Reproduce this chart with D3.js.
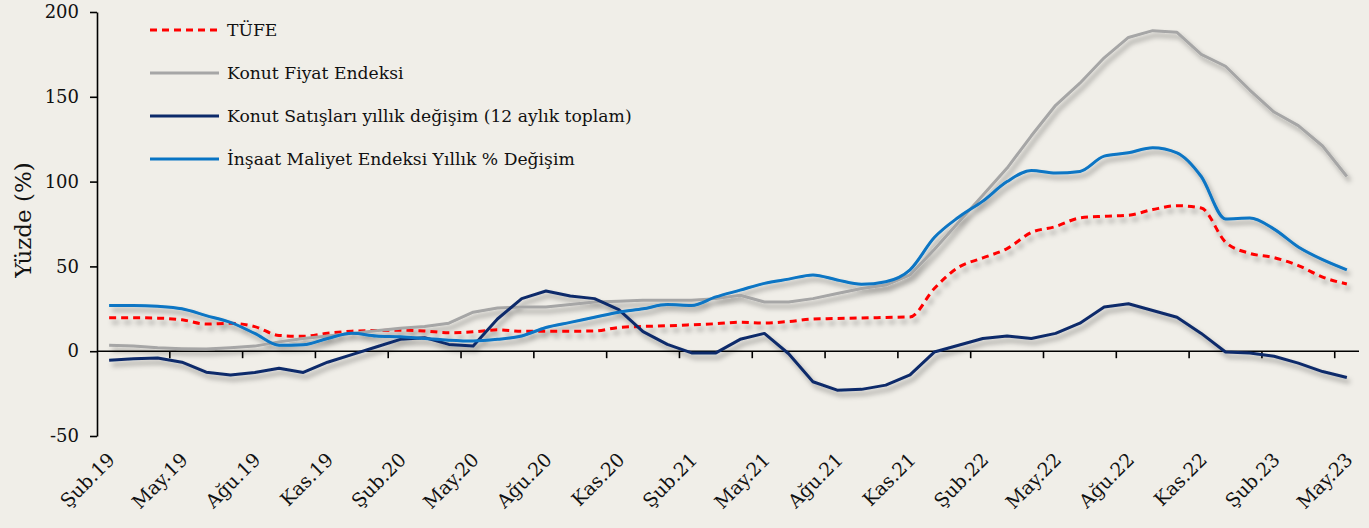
<!DOCTYPE html>
<html>
<head>
<meta charset="utf-8">
<script src="https://cdn.jsdelivr.net/npm/d3@7"></script>
<style>
  html, body { margin: 0; padding: 0; background: #f0eee8; }
  svg { display: block; }
  text { font-family: "DejaVu Serif", serif; fill: #111; }
</style>
</head>
<body>
<svg id="chart" width="1369" height="528"></svg>
<script>
// aylar: Şub.19 - May.23
var months = ["Şub.19","Mar.19","Nis.19","May.19","Haz.19","Tem.19","Ağu.19","Eyl.19","Eki.19","Kas.19","Ara.19",
  "Oca.20","Şub.20","Mar.20","Nis.20","May.20","Haz.20","Tem.20","Ağu.20","Eyl.20","Eki.20","Kas.20","Ara.20",
  "Oca.21","Şub.21","Mar.21","Nis.21","May.21","Haz.21","Tem.21","Ağu.21","Eyl.21","Eki.21","Kas.21","Ara.21",
  "Oca.22","Şub.22","Mar.22","Nis.22","May.22","Haz.22","Tem.22","Ağu.22","Eyl.22","Eki.22","Kas.22","Ara.22",
  "Oca.23","Şub.23","Mar.23","Nis.23","May.23"];

var tufe = [19.7,19.7,19.5,18.5,16,16.5,14.5,9.3,8.8,10.6,11.8,
  12.2,12.4,11.9,10.9,11.4,12.6,11.8,11.8,11.8,11.9,14.0,14.6,
  15.0,15.6,16.2,17.1,16.6,17.5,19.0,19.3,19.6,19.9,20.2,37,
  49.5,55,60.5,70.0,73.5,78.6,79.6,80.2,83.5,85.8,84.4,64.3,
  57.7,55.2,50.5,43.7,39.6];

var konutFiyat = [3.5,3,2,1.5,1.3,2,3,5.5,7.5,9,10.5,
  12,13.5,14.5,16.5,23,25.5,26,26,27.5,29,29.5,30,
  30,30,31,33,29,29,31,34,37,39,45,60,
  76,92,108,127,145,158,173,185,189,188,175,168,
  154,141,133,121,103];

var konutSatis = [-5.3,-4.5,-4,-6.5,-12.4,-14,-12.5,-10,-12.5,-6.5,-2,
  2.5,7,8,4,3,19,31,35.5,32.5,31,24.5,11.5,
  4,-1,-1,7,10.5,-1.5,-18,-23,-22.5,-20,-14,-0.5,
  3.5,7.5,9,7.5,10.5,16.5,26,28,24,20,10.5,-0.5,
  -1,-3,-7,-12,-15.5];

var insaat = [27,27,26.5,25,21,17,10.5,3.5,3.8,7.5,10.6,
  9,8.5,7.5,6.5,6,7,9,14,17,20,23,25,
  27.5,27,32,36,40,42.5,45,42,39.5,41,48,67,
  79,88.5,100,106.5,105,106,115,117,120,117,103,78,
  78.5,72,61.5,54,48];

var yTicks = [-50, 0, 50, 100, 150, 200];

var series = [
  { name: "TÜFE", values: tufe, color: "#ff0000", dash: "7,5", curve: d3.curveMonotoneX },
  { name: "Konut Fiyat Endeksi", values: konutFiyat, color: "#a6a6a6", dash: null, curve: d3.curveLinear },
  { name: "Konut Satışları yıllık değişim (12 aylık toplam)", values: konutSatis, color: "#0c2a6a", dash: null, curve: d3.curveLinear },
  { name: "İnşaat Maliyet Endeksi Yıllık % Değişim", values: insaat, color: "#0874c4", dash: null, curve: d3.curveMonotoneX }
];

var svg = d3.select("#chart")
  , plotLeft = 97
  , plotRight = 1359
  , plotTop = 12
  , plotBottom = 436;

var x = d3.scaleBand().domain(months).range([plotLeft, plotRight]).paddingInner(0).paddingOuter(0);
var y = d3.scaleLinear().domain([-50, 200]).range([plotBottom, plotTop]);
var cx = d => x(d) + x.bandwidth() / 2;

// shadow for the lines
var defs = svg.append("defs");
var f = defs.append("filter").attr("id", "shadow").attr("x", "-5%").attr("y", "-20%").attr("width", "110%").attr("height", "140%");
f.append("feDropShadow").attr("dx", 3).attr("dy", 4.5).attr("stdDeviation", 2.4)
  .attr("flood-color", "#000").attr("flood-opacity", 0.35);

// y axis
var yAxis = svg.append("g").attr("transform", "translate(" + plotLeft + ",0)")
  .call(d3.axisLeft(y).tickValues(yTicks).tickFormat(d => String(d)).tickSize(7).tickSizeOuter(0).tickPadding(11));
yAxis.select(".domain").attr("stroke", "#000").attr("stroke-width", 1.6);
yAxis.selectAll(".tick line").attr("stroke", "#000").attr("stroke-width", 1.6);
yAxis.selectAll("text").style("font-family", "DejaVu Serif").style("font-size", "18px").attr("fill", "#111");

svg.append("text")
  .attr("transform", "translate(31,220) rotate(-90)")
  .attr("text-anchor", "middle")
  .style("font-size", "23px")
  .text("Yüzde (%)");

// x axis on zero line, ticks every 3 months at band edges
svg.append("line")
  .attr("x1", plotLeft).attr("x2", plotRight)
  .attr("y1", y(0)).attr("y2", y(0))
  .attr("stroke", "#000").attr("stroke-width", 1.6);

var tickIdx = d3.range(3, months.length, 3);
svg.append("g").selectAll("line")
  .data(tickIdx)
  .enter().append("line")
    .attr("x1", i => x(months[i])).attr("x2", i => x(months[i]))
    .attr("y1", y(0)).attr("y2", y(0) + 7)
    .attr("stroke", "#000").attr("stroke-width", 1.6);

var labelIdx = d3.range(0, months.length, 3);
svg.append("g").selectAll("text")
  .data(labelIdx)
  .enter().append("text")
    .attr("transform", i => "translate(" + (cx(months[i]) + 7) + "," + 461 + ") rotate(-45)")
    .attr("text-anchor", "end")
    .style("font-size", "19px")
    .text(i => months[i]);

// lines
var lines = svg.append("g").attr("filter", "url(#shadow)");
series.forEach(function(s){
  var line = d3.line()
    .x((v, i) => cx(months[i]))
    .y(v => y(v))
    .curve(s.curve);
  lines.append("path")
    .datum(s.values)
    .attr("d", line)
    .attr("fill", "none")
    .attr("stroke", s.color)
    .attr("stroke-width", 3)
    .attr("stroke-dasharray", s.dash)
    .attr("stroke-linejoin", "round");
});

// legend
var legend = svg.append("g").selectAll("g")
  .data(series)
  .enter().append("g")
    .attr("transform", (d, i) => "translate(150," + (30 + i * 43) + ")");
legend.append("line")
  .attr("x1", 0).attr("x2", 69)
  .attr("stroke", d => d.color)
  .attr("stroke-width", 3)
  .attr("stroke-dasharray", d => d.dash);
legend.append("text")
  .attr("x", 77).attr("dy", ".35em")
  .style("font-size", "17.2px")
  .text(d => d.name);
</script>
</body>
</html>
